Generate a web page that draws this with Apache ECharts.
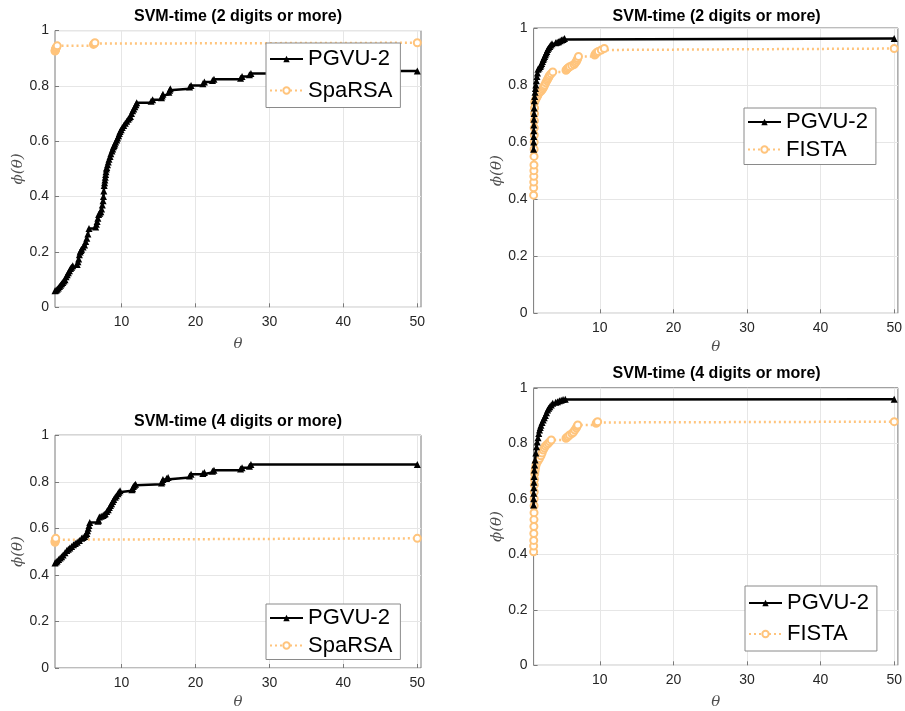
<!DOCTYPE html>
<html>
<head>
<meta charset="utf-8">
<script src="https://cdn.jsdelivr.net/npm/echarts@6/dist/echarts.min.js"></script>
<style>
  html, body { margin: 0; padding: 0; background: #fff; }
  #chart { width: 905px; height: 711px; }
</style>
</head>
<body>
<div id="chart"></div>
<script>
// Panel titles and method names
const titles = [
  'SVM-time (2 digits or more)',
  'SVM-time (2 digits or more)',
  'SVM-time (4 digits or more)',
  'SVM-time (4 digits or more)'
]
const methodA = 'PGVU-2'
const methodsB = ['SpaRSA', 'FISTA', 'SpaRSA', 'FISTA']

// Tick labels
const xTicks = [10, 20, 30, 40, 50]
const yTicks = [0, 0.2, 0.4, 0.6, 0.8, 1]

// Panel 1: PGVU-2 vs SpaRSA (2 digits)
const p1PgvuTheta = [1.0, 1.15, 1.3, 1.45, 1.6, 1.75, 1.9, 2.05, 2.2, 2.35, 2.5, 2.65, 2.8, 2.95, 3.1, 3.25, 3.4, 4.0, 4.1, 4.2, 4.3, 4.4, 4.5, 4.6, 4.8, 5.0, 5.15, 5.3, 5.45, 5.6, 6.5, 6.6, 6.7, 6.8, 6.9, 7.05, 7.2, 7.3, 7.4, 7.5, 7.55, 7.6, 7.65, 7.7, 7.75, 7.8, 7.85, 7.9, 7.95, 8.0, 8.1, 8.2, 8.3, 8.45, 8.55, 8.7, 8.8, 8.9, 9.0, 9.1, 9.2, 9.35, 9.45, 9.6, 9.7, 9.8, 9.95, 10.1, 10.3, 10.5, 10.7, 10.9, 11.05, 11.2, 11.35, 11.5, 11.65, 11.8, 11.95, 12.05, 14.0, 14.2, 15.4, 15.5, 15.6, 16.4, 16.5, 16.6, 19.2, 19.4, 21.0, 21.2, 22.3, 22.5, 26.1, 26.3, 27.3, 27.5, 31.0, 50]
const p1PgvuPhi = [0.06, 0.062, 0.065, 0.07, 0.075, 0.08, 0.085, 0.09, 0.095, 0.1, 0.11, 0.118, 0.125, 0.132, 0.14, 0.145, 0.15, 0.155, 0.165, 0.175, 0.19, 0.2, 0.205, 0.21, 0.218, 0.225, 0.238, 0.25, 0.265, 0.285, 0.29, 0.3, 0.31, 0.322, 0.335, 0.34, 0.345, 0.355, 0.37, 0.385, 0.4, 0.42, 0.44, 0.45, 0.46, 0.47, 0.48, 0.49, 0.5, 0.505, 0.515, 0.525, 0.535, 0.545, 0.555, 0.565, 0.572, 0.58, 0.585, 0.59, 0.597, 0.605, 0.612, 0.62, 0.628, 0.635, 0.642, 0.65, 0.657, 0.665, 0.672, 0.68, 0.685, 0.69, 0.7, 0.71, 0.717, 0.725, 0.732, 0.739, 0.745, 0.75, 0.757, 0.764, 0.77, 0.777, 0.784, 0.79, 0.796, 0.802, 0.808, 0.814, 0.82, 0.824, 0.828, 0.834, 0.84, 0.845, 0.854, 0.854]
const p1OtherTheta = [1.0, 1.03, 1.05, 1.08, 1.1, 1.15, 1.2, 1.3, 6.2, 6.3, 6.4, 50]
const p1OtherPhi = [0.926, 0.928, 0.93, 0.933, 0.935, 0.938, 0.94, 0.945, 0.95, 0.953, 0.956, 0.956]

// Panel 2: PGVU-2 vs FISTA (2 digits)
const p2PgvuTheta = [1.0, 1.01, 1.02, 1.03, 1.04, 1.05, 1.06, 1.08, 1.1, 1.15, 1.2, 1.25, 1.3, 1.38, 1.45, 1.52, 1.6, 1.75, 1.9, 2.0, 2.1, 2.2, 2.3, 2.4, 2.5, 2.6, 2.7, 2.8, 2.9, 3.05, 3.2, 3.35, 3.5, 4.0, 4.2, 4.4, 4.6, 4.8, 5.0, 5.2, 50]
const p2PgvuPhi = [0.575, 0.6, 0.62, 0.64, 0.66, 0.68, 0.7, 0.72, 0.745, 0.76, 0.775, 0.788, 0.8, 0.815, 0.83, 0.842, 0.855, 0.86, 0.865, 0.87, 0.876, 0.883, 0.89, 0.895, 0.9, 0.906, 0.912, 0.918, 0.925, 0.93, 0.935, 0.94, 0.945, 0.948, 0.95, 0.952, 0.955, 0.958, 0.96, 0.963, 0.963]
const p2OtherTheta = [1.0, 1.01, 1.02, 1.03, 1.04, 1.05, 1.06, 1.07, 1.08, 1.09, 1.1, 1.11, 1.12, 1.13, 1.15, 1.25, 1.4, 1.55, 1.7, 1.85, 2.05, 2.2, 2.3, 2.4, 2.5, 2.65, 2.8, 2.9, 3.0, 3.1, 3.2, 3.4, 3.6, 5.4, 5.5, 5.6, 5.75, 5.9, 6.2, 6.5, 6.65, 6.8, 6.9, 7.0, 7.1, 9.3, 9.4, 9.5, 9.65, 9.8, 10.2, 10.6, 50]
const p2OtherPhi = [0.414, 0.44, 0.46, 0.48, 0.5, 0.52, 0.55, 0.575, 0.6, 0.625, 0.65, 0.675, 0.7, 0.72, 0.74, 0.748, 0.755, 0.762, 0.77, 0.775, 0.78, 0.785, 0.79, 0.795, 0.8, 0.808, 0.815, 0.82, 0.825, 0.83, 0.835, 0.84, 0.846, 0.852, 0.855, 0.858, 0.861, 0.864, 0.868, 0.872, 0.877, 0.882, 0.888, 0.893, 0.9, 0.905, 0.909, 0.912, 0.915, 0.918, 0.923, 0.928, 0.928]

// Panel 3: PGVU-2 vs SpaRSA (4 digits)
const p3PgvuTheta = [1.0, 1.15, 1.3, 1.5, 1.7, 1.9, 2.1, 2.35, 2.6, 2.8, 3.0, 3.25, 3.5, 3.75, 4.0, 4.3, 4.6, 4.8, 5.0, 5.15, 5.3, 5.4, 5.5, 5.6, 5.7, 6.8, 6.9, 7.0, 7.25, 7.5, 7.65, 7.8, 8.0, 8.2, 8.35, 8.5, 8.65, 8.8, 8.95, 9.15, 9.3, 9.5, 9.65, 9.8, 11.4, 11.5, 11.6, 11.75, 11.9, 15.4, 15.5, 15.6, 16.1, 16.3, 19.2, 19.4, 21.0, 21.2, 22.3, 22.5, 26.1, 26.3, 27.3, 27.5, 50]
const p3PgvuPhi = [0.451, 0.455, 0.46, 0.466, 0.472, 0.478, 0.485, 0.495, 0.505, 0.51, 0.515, 0.522, 0.529, 0.535, 0.54, 0.548, 0.557, 0.561, 0.565, 0.572, 0.578, 0.59, 0.6, 0.612, 0.625, 0.63, 0.635, 0.649, 0.652, 0.655, 0.659, 0.663, 0.672, 0.68, 0.689, 0.698, 0.706, 0.715, 0.724, 0.733, 0.74, 0.748, 0.755, 0.761, 0.766, 0.77, 0.78, 0.785, 0.789, 0.795, 0.8, 0.81, 0.814, 0.818, 0.825, 0.832, 0.836, 0.84, 0.845, 0.849, 0.855, 0.86, 0.867, 0.874, 0.874]
const p3OtherTheta = [1.0, 1.02, 1.04, 1.06, 1.08, 1.1, 50]
const p3OtherPhi = [0.54, 0.544, 0.548, 0.551, 0.553, 0.557, 0.557]

// Panel 4: PGVU-2 vs FISTA (4 digits)
const p4PgvuTheta = [1.0, 1.01, 1.02, 1.035, 1.05, 1.07, 1.1, 1.15, 1.2, 1.3, 1.4, 1.5, 1.6, 1.7, 1.8, 1.9, 2.0, 2.15, 2.3, 2.45, 2.6, 2.75, 2.9, 3.05, 3.2, 3.4, 3.6, 4.0, 4.25, 4.5, 4.75, 5.0, 5.3, 50]
const p4PgvuPhi = [0.578, 0.6, 0.62, 0.64, 0.66, 0.68, 0.704, 0.722, 0.74, 0.765, 0.788, 0.805, 0.82, 0.835, 0.848, 0.857, 0.865, 0.875, 0.884, 0.892, 0.9, 0.91, 0.92, 0.926, 0.932, 0.938, 0.944, 0.948, 0.95, 0.953, 0.955, 0.958, 0.959, 0.959]
const p4OtherTheta = [1.0, 1.01, 1.02, 1.03, 1.04, 1.05, 1.06, 1.07, 1.08, 1.09, 1.1, 1.12, 1.15, 1.2, 1.25, 1.32, 1.4, 1.6, 1.8, 2.0, 2.15, 2.3, 2.45, 2.6, 2.8, 3.0, 3.2, 3.4, 5.4, 5.55, 5.7, 5.9, 6.2, 6.4, 6.6, 6.8, 6.9, 7.0, 9.5, 9.6, 9.7, 50]
const p4OtherPhi = [0.409, 0.43, 0.45, 0.475, 0.5, 0.525, 0.55, 0.575, 0.6, 0.625, 0.65, 0.67, 0.69, 0.7, 0.71, 0.72, 0.728, 0.736, 0.745, 0.755, 0.765, 0.776, 0.783, 0.79, 0.795, 0.8, 0.806, 0.812, 0.818, 0.822, 0.825, 0.83, 0.835, 0.84, 0.848, 0.855, 0.861, 0.866, 0.872, 0.875, 0.878, 0.878]

const pgvuSets = [
  [p1PgvuTheta, p1PgvuPhi],
  [p2PgvuTheta, p2PgvuPhi],
  [p3PgvuTheta, p3PgvuPhi],
  [p4PgvuTheta, p4PgvuPhi]
]
const otherSets = [
  [p1OtherTheta, p1OtherPhi],
  [p2OtherTheta, p2OtherPhi],
  [p3OtherTheta, p3OtherPhi],
  [p4OtherTheta, p4OtherPhi]
]

const BLACK = '#000000'
const ORANGE = '#ffc47c'
const FRAME = '#7a7a7a'
const TEXT = '#262626'

// grid boxes: left, top, width, height
const grids = [
  { left: 55, top: 30.6, width: 366, height: 276.7 },
  { left: 533.6, top: 28, width: 366, height: 285.3 },
  { left: 55, top: 435.2, width: 366, height: 236.5 },
  { left: 533.6, top: 387.8, width: 366, height: 277.5 }
]
const titleTops = [8.5, 8.5, 414, 366]
const xNameGaps = [29, 26, 27, 29]
const yNameGaps = [26, 27, 26, 25]
const legendBoxes = [
  { left: 266, top: 43, gap: 9.5, pad: [5, 8, 6, 3] },
  { left: 744, top: 108, gap: 5.5, pad: [3, 8, 4, 3] },
  { left: 266, top: 604, gap: 5.5, pad: [3, 8, 3, 3] },
  { left: 745, top: 586, gap: 9, pad: [6, 8, 6, 3] }
]

const toPairs = (xs, ys) => xs.map((x, i) => [x, ys[i]])

const chart = echarts.init(document.getElementById('chart'), null, { renderer: 'canvas' })

const option = {
  animation: false,
  backgroundColor: '#ffffff',
  title: grids.map((g, i) => ({
    text: titles[i],
    left: g.left + g.width / 2,
    top: titleTops[i],
    padding: 0,
    textAlign: 'center',
    textStyle: { fontFamily: 'Liberation Sans', fontSize: 16, fontWeight: 'bold', color: '#000' }
  })),
  grid: grids.map(g => ({
    left: g.left, top: g.top, width: g.width, height: g.height,
    show: true, borderColor: FRAME, borderWidth: 1, backgroundColor: '#fff',
    containLabel: false
  })),
  legend: legendBoxes.map((l, i) => ({
    data: [methodA, methodsB[i]],
    orient: 'vertical',
    left: l.left,
    top: l.top,
    padding: l.pad,
    itemGap: l.gap,
    itemWidth: 33,
    itemHeight: 8,
    backgroundColor: '#fff',
    borderColor: '#8a8a8a',
    borderWidth: 1,
    borderRadius: 0,
    selectedMode: false,
    textStyle: { fontFamily: 'Liberation Sans', fontSize: 22, lineHeight: 21, color: '#000' }
  })),
  xAxis: grids.map((g, i) => ({
    gridIndex: i,
    type: 'value',
    min: 1,
    max: 50.5,
    name: 'θ',
    nameLocation: 'middle',
    nameGap: xNameGaps[i],
    nameTextStyle: { fontFamily: 'DejaVu Serif', fontStyle: 'italic', fontSize: 15, color: '#505050' },
    axisLine: { show: false },
    axisTick: { show: true, inside: true, length: 4, lineStyle: { color: FRAME }, customValues: xTicks },
    axisLabel: { fontFamily: 'Liberation Sans', fontSize: 14, color: TEXT, margin: 8, customValues: xTicks },
    splitLine: { show: true, lineStyle: { color: '#e6e6e6' }, customValues: xTicks }
  })),
  yAxis: grids.map((g, i) => ({
    gridIndex: i,
    type: 'value',
    min: 0,
    max: 1,
    interval: 0.2,
    name: 'ϕ(θ)',
    nameLocation: 'middle',
    nameGap: yNameGaps[i],
    nameRotate: 90,
    nameTextStyle: { fontFamily: 'DejaVu Serif', fontStyle: 'italic', fontSize: 15, color: '#505050' },
    axisLine: { show: false },
    axisTick: { show: true, inside: true, length: 4, lineStyle: { color: FRAME } },
    axisLabel: {
      fontFamily: 'Liberation Sans', fontSize: 14, color: TEXT, margin: 6,
      formatter: v => yTicks.includes(Math.round(v * 10) / 10) ? String(Math.round(v * 10) / 10) : ''
    },
    splitLine: { show: true, lineStyle: { color: '#e6e6e6' } }
  })),
  series: []
}

for (let i = 0; i < 4; i++) {
  option.series.push({
    name: methodsB[i],
    type: 'line',
    xAxisIndex: i,
    yAxisIndex: i,
    step: 'end',
    data: toPairs(otherSets[i][0], otherSets[i][1]),
    symbol: 'emptyCircle',
    symbolSize: 7,
    showAllSymbol: true,
    lineStyle: { color: ORANGE, width: 2.5, type: [2, 3] },
    itemStyle: { color: ORANGE, borderColor: ORANGE, borderWidth: 2 },
    z: 2
  })
  option.series.push({
    name: methodA,
    type: 'line',
    xAxisIndex: i,
    yAxisIndex: i,
    step: 'end',
    data: toPairs(pgvuSets[i][0], pgvuSets[i][1]),
    symbol: 'triangle',
    symbolSize: 7,
    showAllSymbol: true,
    lineStyle: { color: BLACK, width: 2.5 },
    itemStyle: { color: BLACK },
    z: 3
  })
}

chart.setOption(option)
window.addEventListener('resize', () => chart.resize())
</script>
</body>
</html>
